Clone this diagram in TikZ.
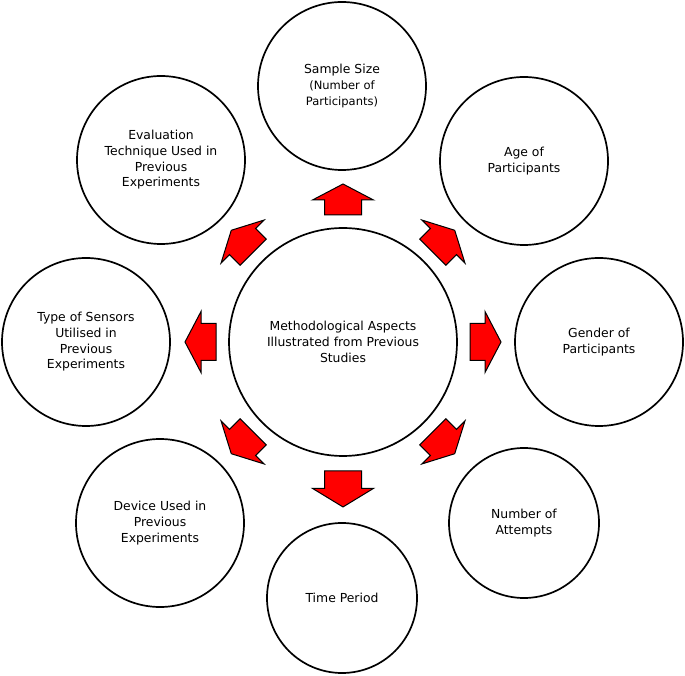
\documentclass[tikz,border=0pt]{standalone}
\usepackage{fontspec}
\setmainfont{DejaVu Sans}
\usetikzlibrary{calc}
\definecolor{arrowred}{HTML}{FF0000}
\tikzset{
  x=1pt,y=1pt,
  bigc/.style={circle,draw=black,line width=1.7pt,minimum size=#1,inner sep=0pt,align=center,
    font=\fontsize{12.4}{15.7}\selectfont},
  barrow/.pic={
    \draw[fill=arrowred,draw=black,line width=1pt,line join=miter]
      (0,-18.5) -- (15,-18.5) -- (15,-30.5) -- (31,0) -- (15,30.5) -- (15,18.5) -- (0,18.5) -- cycle;
  }
}
\newcommand{\smtxt}{\fontsize{11.5}{16.3}\selectfont}
\begin{document}
\begin{tikzpicture}
\useasboundingbox (0,0) rectangle (685,675);
\node[bigc=228] (C) at (343,333) {Methodological Aspects\\Illustrated from Previous\\Studies};
\node[bigc=168] (S) at (342,589) {Sample Size\\{\smtxt(Number of}\\{\smtxt Participants)}};
\node[bigc=168] (A) at (524,514) {Age of\\Participants};
\node[bigc=168] (G) at (599,333) {Gender of\\Participants};
\node[bigc=150] (N) at (524,152) {Number of\\Attempts};
\node[bigc=150] (T) at (342,77) {Time Period};
\node[bigc=168] (D) at (160,152) {Device Used in\\Previous\\Experiments};
\node[bigc=168] (Y) at (86,333) {Type of Sensors\\Utilised in\\Previous\\Experiments};
\node[bigc=168] (E) at (161,515) {Evaluation\\Technique Used in\\Previous\\Experiments};
\foreach \ang in {90,45,0,-45,-135,180,135}{
  \pic[rotate=\ang] at ($(C.center)+(\ang:127)$) {barrow};
}
\pic[rotate=-90,xscale=1.16] at ($(C.center)+(-90:129)$) {barrow};
\end{tikzpicture}
\end{document}
